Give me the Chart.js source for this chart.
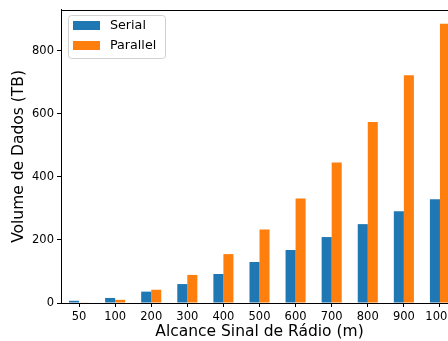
<!DOCTYPE html>
<html><head><meta charset="utf-8">
<script src="https://cdn.jsdelivr.net/npm/chart.js@4"></script>
<style>html,body{margin:0;padding:0;overflow:hidden;background:#fff;width:448px;height:341px}
#wrap{position:relative;width:470px;height:341px}</style>
</head><body><div id="wrap"><canvas id="c"></canvas></div>
<script>
const categories = ['50','100','200','300','400','500','600','700','800','900','1000'];
const serial = [7, 16, 36, 60, 92, 130, 168, 209, 250, 291, 329];
const parallel = [2, 10, 42, 89, 155, 233, 331, 445, 574, 722, 885];
const seriesNames = ['Serial', 'Parallel'];
const yTicks = [0, 200, 400, 600, 800];
const yMax = 929;

const FONT = 'DejaVu Sans';
const frame = {
  id: 'frame',
  afterDraw(chart) {
    const {ctx, chartArea: a} = chart;
    ctx.save();
    ctx.strokeStyle = '#000'; ctx.lineWidth = 1;
    ctx.strokeRect(Math.round(a.left) + 0.5, Math.round(a.top) + 0.5, Math.round(a.right - a.left), Math.round(a.bottom - a.top));
    // legend
    const x0 = 68, y0 = 15, w = 97, h = 43;
    ctx.fillStyle = 'rgba(255,255,255,0.8)';
    ctx.strokeStyle = '#d0d0d0';
    ctx.beginPath();
    if (ctx.roundRect) ctx.roundRect(x0 + 0.5, y0 + 0.5, w, h, 3); else ctx.rect(x0 + 0.5, y0 + 0.5, w, h);
    ctx.fill(); ctx.stroke();
    ctx.font = '12.7px "' + FONT + '"';
    ctx.textBaseline = 'middle';
    chart.data.datasets.forEach((ds, i) => {
      const yy = y0 + 6 + i * 20;
      ctx.fillStyle = ds.backgroundColor;
      ctx.fillRect(x0 + 5, yy, 27, 9);
      ctx.fillStyle = '#000';
      ctx.fillText(ds.label, x0 + 42, yy + 5);
    });
    ctx.restore();
  }
};

new Chart(document.getElementById('c'), {
  type: 'bar',
  data: {
    labels: categories,
    datasets: [
      {label: seriesNames[0], data: serial, backgroundColor: '#1f77b4', categoryPercentage: 0.556, barPercentage: 1},
      {label: seriesNames[1], data: parallel, backgroundColor: '#ff7f0e', categoryPercentage: 0.556, barPercentage: 1}
    ]
  },
  options: {
    responsive: true, maintainAspectRatio: false, animation: false,
    layout: {padding: {top: 8, right: 12, left: 0, bottom: 0}},
    plugins: {legend: {display: false}, tooltip: {enabled: false}},
    scales: {
      x: {
        offset: true,
        grid: {display: true, drawOnChartArea: false, color: '#000', tickLength: 4, offset: false},
        border: {display: true, color: '#000'},
        ticks: {color: '#000', font: {family: FONT, size: 11.5}, padding: 3, maxRotation: 0, autoSkip: false},
        title: {display: true, text: 'Alcance Sinal de Rádio (m)', color: '#000', font: {family: FONT, size: 15.5}, padding: {top: 4, bottom: 0}},
        afterFit(s) { s.height = 38; }
      },
      y: {
        min: 0, max: yMax,
        afterBuildTicks(s) { s.ticks = yTicks.map(v => ({value: v})); },
        grid: {display: true, drawOnChartArea: false, color: '#000', tickLength: 4},
        border: {display: true, color: '#000'},
        ticks: {color: '#000', font: {family: FONT, size: 11.5}, padding: 3},
        title: {display: true, text: 'Volume de Dados (TB)', color: '#000', font: {family: FONT, size: 15.5}, padding: {top: 10, bottom: 0}},
        afterFit(s) { s.width = 61; }
      }
    }
  },
  plugins: [frame]
});
</script></body></html>
